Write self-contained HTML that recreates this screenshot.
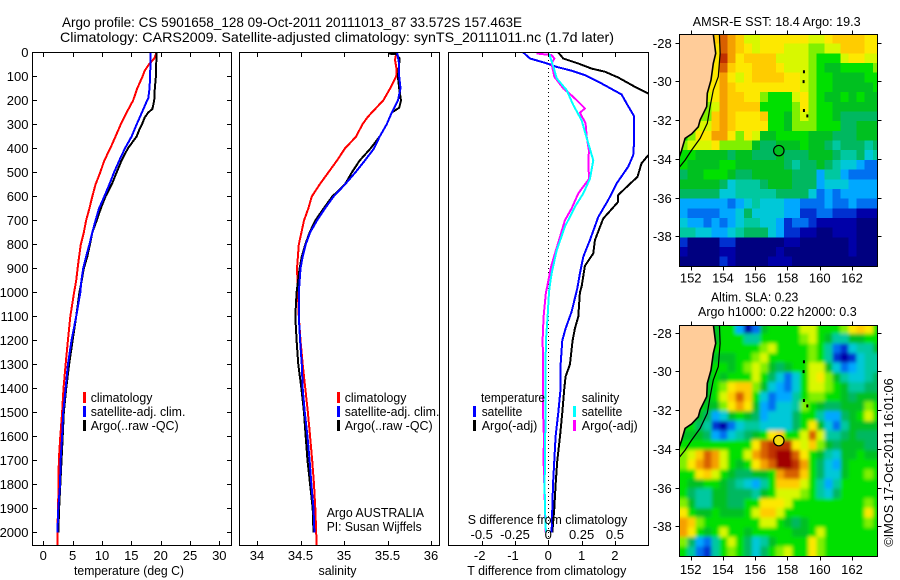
<!DOCTYPE html>
<html lang="en">
<head>
<meta charset="utf-8">
<title>Argo profile</title>
<style>
html,body{margin:0;padding:0;background:#fff;width:900px;height:580px;overflow:hidden}
svg{display:block}
text{font-family:"Liberation Sans",sans-serif;font-size:13px;fill:#000}
.frame{fill:none;stroke:#000;stroke-width:1;shape-rendering:crispEdges}
.tick{stroke:#000;stroke-width:1;shape-rendering:crispEdges}
.prof{fill:none;stroke-width:2;stroke-linejoin:round;shape-rendering:crispEdges}
.key{shape-rendering:crispEdges}
</style>
</head>
<body>
<svg id="fig" width="900" height="580" viewBox="0 0 900 580">
<defs>
<clipPath id="c1"><rect x="32" y="52" width="200" height="494"/></clipPath>
<clipPath id="c2"><rect x="239" y="52" width="201" height="494"/></clipPath>
<clipPath id="c3"><rect x="448" y="52" width="201" height="494"/></clipPath>
<clipPath id="m1"><rect x="679" y="34" width="199" height="233"/></clipPath>
<clipPath id="m2"><rect x="679" y="325" width="199" height="232"/></clipPath>
<filter id="soft" x="-10%" y="-10%" width="120%" height="120%"><feGaussianBlur stdDeviation="1.8"/></filter>
</defs>

<text x="62" y="27" font-size="14" textLength="460" lengthAdjust="spacingAndGlyphs" style="font-size:14px">Argo profile: CS 5901658_128 09-Oct-2011 20111013_87 33.572S 157.463E</text>
<text x="60" y="42" textLength="554" lengthAdjust="spacingAndGlyphs" style="font-size:14px">Climatology: CARS2009. Satellite-adjusted climatology: synTS_20111011.nc (1.7d later)</text>

<g id="p1" clip-path="url(#c1)"></g>
<g id="p2" clip-path="url(#c2)"></g>
<g id="p3" clip-path="url(#c3)"></g>
<g id="axes"></g>

<rect class="frame" x="32.5" y="52.5" width="199" height="493"/>
<rect class="frame" x="239.5" y="52.5" width="200" height="493"/>
<rect class="frame" x="448.5" y="52.5" width="200" height="493"/>

<text x="74" y="575" textLength="110" lengthAdjust="spacingAndGlyphs">temperature (deg C)</text>
<text x="318.5" y="575" textLength="38" lengthAdjust="spacingAndGlyphs">salinity</text>
<text x="467.3" y="575" textLength="159" lengthAdjust="spacingAndGlyphs">T difference from climatology</text>
<text x="467.7" y="524" textLength="159.6" lengthAdjust="spacingAndGlyphs">S difference from climatology</text>

<g>
<rect class="key" x="83" y="392" width="3" height="11" fill="#f00"/>
<rect class="key" x="83" y="406" width="3" height="11" fill="#00f"/>
<rect class="key" x="83" y="420" width="3" height="11" fill="#000"/>
<text x="90.7" y="402" textLength="61.7" lengthAdjust="spacingAndGlyphs">climatology</text>
<text x="90.7" y="416" textLength="94.7" lengthAdjust="spacingAndGlyphs">satellite-adj. clim.</text>
<text x="90.7" y="430" textLength="88" lengthAdjust="spacingAndGlyphs">Argo(..raw -QC)</text>
</g>
<g>
<rect class="key" x="337" y="392" width="3" height="11" fill="#f00"/>
<rect class="key" x="337" y="406" width="3" height="11" fill="#00f"/>
<rect class="key" x="337" y="420" width="3" height="11" fill="#000"/>
<text x="344.7" y="402" textLength="61.7" lengthAdjust="spacingAndGlyphs">climatology</text>
<text x="344.7" y="416" textLength="94.7" lengthAdjust="spacingAndGlyphs">satellite-adj. clim.</text>
<text x="344.7" y="430" textLength="88" lengthAdjust="spacingAndGlyphs">Argo(..raw -QC)</text>
</g>
<text x="326.7" y="517" textLength="97.3" lengthAdjust="spacingAndGlyphs">Argo AUSTRALIA</text>
<text x="326.7" y="531" textLength="95" lengthAdjust="spacingAndGlyphs">PI: Susan Wijffels</text>

<g>
<text x="481" y="402" textLength="64" lengthAdjust="spacingAndGlyphs">temperature</text>
<text x="481.7" y="416" textLength="40.6" lengthAdjust="spacingAndGlyphs">satellite</text>
<text x="481.7" y="430" textLength="55.6" lengthAdjust="spacingAndGlyphs">Argo(-adj)</text>
<text x="581.7" y="402" textLength="37.6" lengthAdjust="spacingAndGlyphs">salinity</text>
<text x="581.7" y="416" textLength="40.6" lengthAdjust="spacingAndGlyphs">satellite</text>
<text x="581.7" y="430" textLength="56" lengthAdjust="spacingAndGlyphs">Argo(-adj)</text>
<rect class="key" x="473" y="406" width="3" height="11" fill="#00f"/>
<rect class="key" x="473" y="420" width="3" height="11" fill="#000"/>
<rect class="key" x="573" y="406" width="3" height="11" fill="#0ff"/>
<rect class="key" x="573" y="420" width="3" height="11" fill="#f0f"/>
</g>

<text x="692.7" y="26" textLength="168" lengthAdjust="spacingAndGlyphs">AMSR-E SST: 18.4  Argo: 19.3</text>
<text x="711" y="301.5" textLength="87.3" lengthAdjust="spacingAndGlyphs">Altim. SLA: 0.23</text>
<text x="698" y="316" textLength="158.7" lengthAdjust="spacingAndGlyphs">Argo h1000: 0.22 h2000: 0.3</text>

<g id="map1" clip-path="url(#m1)"></g>
<g id="map2" clip-path="url(#m2)"></g>
<g id="mapaxes"></g>
<rect class="frame" x="679.5" y="34.5" width="198" height="232"/>
<rect class="frame" x="679.5" y="325.5" width="198" height="231"/>

<text transform="translate(893,546.7) rotate(-90)" textLength="168.4" lengthAdjust="spacingAndGlyphs">©IMOS 17-Oct-2011 16:01:06</text>
</svg>

<script>
// ---------- profile axis labels ----------
const depthTicks = [0,100,200,300,400,500,600,700,800,900,1000,1100,1200,1300,1400,1500,1600,1700,1800,1900,2000];
const tempTicks = [0,5,10,15,20,25,30];
const salTicks = [34,34.5,35,35.5,36];
const tDiffTicks = [-2,-1,0,1,2];
const sDiffTicks = [-0.5,-0.25,0,0.25,0.5];
const sDiffLabels = ['-0.5','-0.25','0','0.25','0.5'];

// ---------- temperature profiles ----------
const tClimDepth = [0,25,50,75,100,150,200,250,300,350,400,450,500,550,600,650,700,750,800,850,900,950,1000,1100,1200,1300,1400,1500,1600,1700,1800,1900,2000,2057];
const tClimValue = [19.3,18.9,18,17.3,16.9,16,15.3,14.2,13.2,12.3,11.4,10.4,9.7,8.9,8.35,7.85,7.3,6.9,6.4,6.1,5.85,5.6,5.25,4.6,4.2,3.8,3.45,3.2,2.9,2.65,2.6,2.5,2.4,2.4];
const tSatDepth = [0,100,150,190,200,250,300,350,400,450,500,550,600,650,700,750,800,850,900,950,1000,1100,1200,1300,1400,1500,1600,1700,1800,1900,2000];
const tSatValue = [18.3,18.2,18.1,17.9,17.7,16.8,15.9,15.05,13.9,12.95,12.05,11.25,10.4,9.5,8.9,8.35,7.85,7.3,6.8,6.5,6.3,5.6,4.8,4.2,3.8,3.4,3.2,2.95,2.85,2.55,2.4];
const tArgoDepth = [0,100,150,200,235,250,270,300,320,350,400,450,500,550,600,650,700,750,800,850,900,950,1000,1100,1200,1300,1400,1500,1600,1700,1800,1900,2000];
const tArgoValue = [19.3,19.2,19,18.9,18.6,17.9,17.3,16.8,16.4,15.9,14.4,13.35,12.5,11.65,10.6,9.8,9.1,8.35,7.95,7.5,6.9,6.55,6.15,5.6,5,4.4,3.9,3.5,3.3,3.1,2.9,2.7,2.55];

// ---------- salinity profiles ----------
const sClimDepth = [0,30,70,100,150,200,250,270,300,350,400,450,500,550,600,650,700,750,800,850,900,1000,1100,1200,1300,1400,1500,1600,1700,1800,1900,2000,2057];
const sClimValue = [35.605,35.586,35.605,35.6,35.53,35.45,35.32,35.27,35.21,35.14,35.01,34.92,34.82,34.72,34.63,34.59,34.54,34.51,34.48,34.47,34.46,34.47,34.48,34.5,34.525,34.555,34.585,34.61,34.635,34.655,34.67,34.68,34.685];
const sSatDepth = [0,50,100,150,200,250,300,350,400,450,500,550,600,650,700,750,800,850,900,1000,1100,1200,1300,1400,1500,1600,1700,1800,1900,2000];
const sSatValue = [35.61,35.635,35.635,35.65,35.62,35.55,35.49,35.41,35.345,35.24,35.13,35.01,34.88,34.78,34.69,34.61,34.56,34.525,34.5,34.48,34.48,34.495,34.515,34.525,34.55,34.58,34.605,34.625,34.65,34.66];
const sArgoDepth = [5,6,25,100,150,200,230,250,300,350,400,450,500,550,600,650,700,750,800,850,900,1000,1100,1200,1300,1400,1500,1600,1700,1800,1900,2000];
const sArgoValue = [35.51,35.6,35.64,35.62,35.635,35.655,35.635,35.55,35.49,35.41,35.305,35.18,35.09,35.01,34.865,34.765,34.67,34.605,34.555,34.515,34.49,34.455,34.44,34.455,34.475,34.51,34.54,34.56,34.58,34.61,34.64,34.65];

// ---------- difference profiles ----------
const dtSatDepth = [0,25,43,60,76,94,129,175,212,264,365,428,476,546,615,685,782,851,921,983,1000,1080,1150,1200,1300,1400,1500,1600,1700,1800,1900,2000];
const dtSatValue = [-0.75,-0.55,-0.1,0.25,0.7,1.1,1.6,2.2,2.35,2.57,2.58,2.55,2.4,2.05,1.8,1.5,1.25,1.05,0.95,0.87,0.84,0.7,0.52,0.42,0.37,0.37,0.3,0.22,0.18,0.14,0.12,0.1];
const dtArgoDepth = [0,25,46,67,80,104,143,171,250,350,428,462,518,567,594,622,692,782,837,889,976,1000,1100,1150,1200,1300,1350,1400,1500,1600,1700,1800,1900,2000];
const dtArgoValue = [0.3,0.45,0.9,1.3,1.7,2.1,2.6,3,3.8,3.9,3,2.8,2.68,2.3,2.1,2.1,1.65,1.4,1.35,1.1,1,0.95,0.9,0.8,0.73,0.65,0.52,0.48,0.42,0.35,0.27,0.22,0.18,0.12];
const dsSatDepth = [4,60,108,157,219,282,379,449,525,587,643,726,824,921,983,1000,1100,1200,1300,1400,1500,1600,1700,1800,1900,2000];
const dsSatValue = [0.005,0.038,0.063,0.138,0.188,0.25,0.3,0.338,0.313,0.263,0.2,0.125,0.063,0.025,0.008,0.005,-0.005,-0.018,-0.02,-0.02,-0.02,-0.023,-0.025,-0.028,-0.025,-0.018];
const dsArgoDepth = [4,11,25,46,101,150,185,233,251,296,351,407,476,525,587,650,699,768,837,893,976,1000,1100,1200,1300,1400,1500,1600,1700,1800,1900,2000];
const dsArgoValue = [-0.088,0.025,0.045,0.025,0.045,0.113,0.188,0.275,0.238,0.28,0.288,0.305,0.3,0.308,0.225,0.175,0.125,0.088,0.05,0.02,-0.008,-0.018,-0.035,-0.043,-0.038,-0.04,-0.04,-0.033,-0.035,-0.03,-0.025,-0.02];

// ---------- map axes + geography ----------
const lonTicks = [152,154,156,158,160,162];
const latTicks = [-28,-30,-32,-34,-36,-38];
const coastLon = [153.4,153.55,153.4,153.26,153.03,152.99,152.58,152.47,152.06,151.65,151.44,151.3];
const coastLat = [-27.55,-28.55,-29.07,-29.93,-30.61,-31.3,-31.99,-32.34,-32.71,-32.94,-33.54,-33.88];
const shelfLon = [153.78,153.82,153.71,153.4,153.2,153.03,152.58,152.06,151.65,151.3];
const shelfLat = [-27.55,-28.55,-29.75,-30.44,-31.3,-32.16,-32.94,-33.54,-34.06,-34.43];
const islandLon = [159.02,159.0,159.02,159.23];
const islandLat = [-29.5,-30.01,-31.5,-31.78];
const floatLon = 157.463;
const floatLat = -33.572;

// ---------- SST heatmap: colour levels by row (north to south), 0.5 degree cells ----------
const sstLevels = [
[9,9,9,9,13,15,14,13,11,11,12,12,12,12,12,12,11,11,12,13,13,13,13,12,12],
[9,9,9,9,12,15,14,13,12,11,12,12,12,11,11,11,10,10,11,11,13,13,13,12,12],
[9,9,9,9,12,16,14,12,13,13,13,13,11,11,11,11,10,9,9,9,11,12,12,11,11],
[9,9,9,10,12,15,13,12,12,13,13,13,12,11,11,11,10,9,8,8,9,9,9,9,10],
[9,9,9,11,12,14,12,11,12,13,13,13,13,12,12,11,10,9,9,8,8,8,8,9,9],
[9,9,9,12,12,14,13,12,12,12,12,12,12,12,12,11,10,9,9,8,8,8,8,8,9],
[9,9,9,11,12,14,13,13,12,12,10,9,9,9,11,12,10,9,8,8,9,8,9,8,8],
[9,9,9,10,11,14,13,13,13,13,9,9,9,9,10,12,10,9,9,8,8,8,8,8,8],
[9,9,10,10,13,14,13,12,12,12,13,9,9,8,10,11,10,9,9,8,7,7,7,7,7],
[9,9,11,11,13,14,13,12,12,12,12,9,9,8,10,10,10,9,9,9,7,7,8,8,8],
[9,10,12,12,14,14,12,10,12,11,8,8,9,9,9,9,8,8,8,7,7,7,8,8,8],
[10,11,11,11,12,10,10,10,10,8,7,7,8,8,8,9,8,8,7,6,7,7,7,6,7],
[9,9,8,8,8,8,7,8,8,7,7,7,8,7,7,7,8,8,8,7,6,6,7,5,6],
[9,8,8,8,8,9,9,8,8,8,8,8,8,7,6,7,7,8,7,6,5,5,4,3,3],
[7,8,8,9,9,9,8,7,7,8,8,8,8,8,7,7,7,4,6,6,4,3,3,3,3],
[8,8,8,8,8,7,5,6,6,6,7,8,8,8,7,7,7,4,5,5,5,4,4,4,4],
[7,7,7,7,7,5,5,6,6,6,6,6,7,7,7,7,5,3,4,3,4,4,4,4,4],
[4,4,4,4,4,4,3,4,5,6,5,5,5,4,4,3,3,3,4,3,3,4,3,3,3],
[4,3,3,3,3,4,4,5,7,5,5,5,5,4,4,2,2,3,3,2,2,2,1,1,1],
[5,4,4,3,4,3,4,5,6,6,5,5,4,2,3,3,2,1,1,1,1,1,0,0,0],
[6,6,5,5,4,4,5,6,7,7,7,5,4,2,2,1,1,0,0,1,1,1,0,0,0],
[2,0,0,0,0,2,2,0,0,0,0,0,0,1,1,0,0,0,0,0,0,1,0,0,0],
[1,0,0,0,0,1,1,0,0,0,0,0,1,0,0,0,0,0,0,0,0,1,0,0,0],
[0,0,0,0,0,2,1,0,0,0,0,1,1,1,0,0,0,0,0,0,0,0,0,0,0]
];

// ---------- SLA heatmap: colour levels by row (north to south), 0.5 degree cells ----------
const slaLevels = [
[9,9,9,9,8,9,9,4,1,3,8,9,9,9,9,11,11,9,9,9,10,12,13,12,9],
[9,9,9,9,8,9,9,9,6,6,9,9,9,9,9,10,11,9,8,6,6,8,8,9,9],
[9,9,9,9,9,9,9,9,9,9,10,11,9,9,9,9,10,9,6,3,2,5,6,6,8],
[9,9,9,9,8,8,8,9,9,10,11,9,9,9,9,9,10,9,6,2,1,2,5,6,6],
[9,9,9,8,9,9,8,9,10,11,10,8,7,8,9,9,11,11,8,5,3,4,5,6,6],
[9,9,9,8,9,8,9,9,9,11,9,7,5,3,5,9,11,12,10,8,6,5,5,6,7],
[9,9,9,8,9,10,12,13,13,10,8,5,4,3,5,9,11,11,10,9,8,6,6,7,7],
[9,9,9,8,9,11,13,15,13,9,5,3,4,4,6,9,10,10,9,9,8,7,8,8,8],
[9,9,9,8,8,10,12,14,12,8,4,3,5,5,6,10,9,8,7,7,8,8,8,10,9],
[9,9,8,7,4,5,8,9,8,7,4,5,5,5,7,9,9,6,4,4,7,8,9,11,9],
[9,9,7,6,2,1,3,5,6,6,5,5,5,5,7,9,12,8,5,3,6,8,8,8,8],
[8,8,8,7,4,3,5,6,7,8,9,12,13,9,9,11,15,11,6,6,7,8,7,7,7],
[9,9,9,9,9,9,9,9,9,12,15,16,16,16,12,11,13,10,8,7,8,8,8,7,7],
[10,11,13,15,14,11,9,9,11,14,15,16,17,17,15,12,9,8,6,5,8,8,9,8,8],
[10,12,14,15,14,11,9,8,9,12,14,15,17,17,16,14,9,7,5,4,8,9,9,9,9],
[9,9,12,13,11,9,8,7,7,8,8,9,14,15,15,13,9,7,5,5,8,9,9,10,9],
[9,8,8,9,9,8,7,6,5,4,6,9,13,13,13,11,9,6,4,6,9,9,9,9,9],
[9,7,6,6,8,8,7,7,7,6,8,9,11,11,11,10,9,6,5,7,9,9,9,9,9],
[10,8,6,6,8,8,7,7,9,9,12,12,12,11,9,9,9,9,9,9,9,9,9,10,9],
[12,9,8,8,9,8,8,8,9,11,13,13,11,9,9,9,9,9,9,9,9,9,9,12,9],
[14,13,10,9,9,9,9,9,9,9,11,11,9,8,7,8,9,9,9,9,9,9,9,10,9],
[14,12,9,8,9,11,9,9,8,9,9,9,9,9,8,8,9,11,9,9,9,9,9,9,9],
[10,7,4,3,6,9,11,9,7,5,6,8,9,9,9,9,12,10,9,9,9,9,9,9,9],
[9,6,3,2,6,9,10,9,7,5,7,9,10,11,9,9,12,10,9,9,9,9,9,9,9]
];

const levelColours = ['#000080','#0000a8','#0030d0','#0070f0','#00a8ff','#00c8d8','#00c8a0','#00b860','#00c020','#00e000','#80f000','#d8f800','#fde800','#ffcc00','#f5a000','#d86000','#c03000','#a00000'];

const NS = 'http://www.w3.org/2000/svg';
function mk(tag, attrs, parent){
  const el = document.createElementNS(NS, tag);
  for (const k in attrs) el.setAttribute(k, attrs[k]);
  parent.appendChild(el);
  return el;
}

// axis functions
const yDepth = d => 52.5 + d * 0.24;
const xTemp = v => 43.3 + v * 5.867;
const xSal = v => 257 + (v - 34) * 87;
const xTDiff = v => 548.3 + v * 33.3;
const xSDiff = v => 548.3 + v * 133.2;
const xLon = lon => 690.7 + (lon - 152) * 16.13;
const yLat1 = lat => 42.7 + (-28 - lat) * 19.37;
const yLat2 = lat => 332.7 + (-28 - lat) * 19.37;

function drawProfile(parent, depths, values, xFn, colour, name){
  const pts = depths.map((d, i) => xFn(values[i]).toFixed(1) + ',' + yDepth(d).toFixed(1)).join(' ');
  const line = mk('polyline', {points: pts, class: 'prof', stroke: colour}, parent);
  
  
}

const p1 = document.getElementById('p1');
const p2 = document.getElementById('p2');
const p3 = document.getElementById('p3');
drawProfile(p1, tClimDepth, tClimValue, xTemp, '#f00', 'temperature-climatology-line');
drawProfile(p1, tArgoDepth, tArgoValue, xTemp, '#000', 'temperature-argo-line');
drawProfile(p1, tSatDepth, tSatValue, xTemp, '#00f', 'temperature-satellite-line');
drawProfile(p2, sClimDepth, sClimValue, xSal, '#f00', 'salinity-climatology-line');
drawProfile(p2, sArgoDepth, sArgoValue, xSal, '#000', 'salinity-argo-line');
drawProfile(p2, sSatDepth, sSatValue, xSal, '#00f', 'salinity-satellite-line');

const zeroLine = mk('line', {x1: 548.5, x2: 548.5, y1: 52, y2: 546, stroke: '#000', 'stroke-width': 1, 'stroke-dasharray': '1 3', 'shape-rendering': 'crispEdges'}, p3);


drawProfile(p3, dtArgoDepth, dtArgoValue, xTDiff, '#000', 't-difference-argo-line');
drawProfile(p3, dtSatDepth, dtSatValue, xTDiff, '#00f', 't-difference-satellite-line');
drawProfile(p3, dsArgoDepth, dsArgoValue, xSDiff, '#f0f', 's-difference-argo-line');
drawProfile(p3, dsSatDepth, dsSatValue, xSDiff, '#0ff', 's-difference-satellite-line');

function tick(parent, x1, y1, x2, y2){
  const t = mk('line', {x1: x1, y1: y1, x2: x2, y2: y2, class: 'tick'}, parent);
  
  
}
function tickLabel(parent, x, y, str, anchor){
  const t = mk('text', {x: x, y: y, 'text-anchor': anchor}, parent);
  t.textContent = str;
  
  
}

const axes = document.getElementById('axes');
depthTicks.forEach(d => {
  const y = Math.round(yDepth(d) - 0.5) + 0.5;
  tick(axes, 32.5, y, 37, y);
  tick(axes, 227, y, 231.5, y);
  tickLabel(axes, 28.5, y + 4.5, String(d), 'end');
});
tempTicks.forEach(v => {
  const x = Math.round(xTemp(v)) + 0.5;
  tick(axes, x, 52.5, x, 57);
  tick(axes, x, 541, x, 545.5);
  tickLabel(axes, xTemp(v), 560, String(v), 'middle');
});
salTicks.forEach(v => {
  const x = Math.round(xSal(v)) + 0.5;
  tick(axes, x, 52.5, x, 57);
  tick(axes, x, 541, x, 545.5);
  tickLabel(axes, xSal(v), 560, String(v), 'middle');
});
tDiffTicks.forEach(v => {
  const x = Math.round(xTDiff(v)) + 0.5;
  tick(axes, x, 52.5, x, 57);
  tick(axes, x, 541, x, 545.5);
  tickLabel(axes, xTDiff(v) - (v < 0 ? 2 : 0), 560, String(v), 'middle');
});
sDiffTicks.forEach((v, i) => {
  tickLabel(axes, xSDiff(v), 539, sDiffLabels[i], 'middle');
});

function drawMap(group, levels, yLat, circleFill, blur, mapName){
  const holder = mk('g', blur ? {filter: 'url(#soft)'} : {}, group);
  
  
  const lon0 = 151.29, lat0 = -27.55, step = 0.5;
  const lastRow = levels.length - 1;
  levels.forEach((row, j) => {
    const lastCol = row.length - 1;
    row.forEach((level, i) => {
      // edge cells bleed past the frame so the soft filter does not fade at the border
      const x0 = xLon(lon0 + i * step) - (i === 0 ? 12 : 0);
      const x1 = xLon(lon0 + (i + 1) * step) + (i === lastCol ? 12 : 0);
      const y0 = yLat(lat0 - j * step) - (j === 0 ? 12 : 0);
      const y1 = yLat(lat0 - (j + 1) * step) + (j === lastRow ? 12 : 0);
      const cell = mk('rect', {x: x0.toFixed(1), y: y0.toFixed(1), width: (x1 - x0 + 0.4).toFixed(1), height: (y1 - y0 + 0.4).toFixed(1), fill: levelColours[level], 'shape-rendering': 'crispEdges'}, holder);
      
      
    });
  });
  const coastPts = coastLon.map((lon, i) => xLon(lon).toFixed(1) + ',' + yLat(coastLat[i]).toFixed(1));
  const landPts = [xLon(151).toFixed(1) + ',' + yLat(-27).toFixed(1), xLon(coastLon[0]).toFixed(1) + ',' + yLat(-27).toFixed(1)].concat(coastPts, [xLon(151).toFixed(1) + ',' + yLat(coastLat[coastLat.length - 1]).toFixed(1)]);
  const land = mk('polygon', {points: landPts.join(' '), fill: '#ffcc99'}, group);
  
  
  const coast = mk('polyline', {points: coastPts.join(' '), fill: 'none', stroke: '#000', 'stroke-width': 1.6}, group);
  
  
  const shelf = mk('polyline', {points: shelfLon.map((lon, i) => xLon(lon).toFixed(1) + ',' + yLat(shelfLat[i]).toFixed(1)).join(' '), fill: 'none', stroke: '#000', 'stroke-width': 1.2}, group);
  
  
  islandLon.forEach((lon, i) => {
    const isl = mk('rect', {x: xLon(lon) - 1, y: yLat(islandLat[i]) - 1.5, width: 2, height: 3, fill: '#000'}, group);
    
    
  });
  const marker = mk('circle', {cx: xLon(floatLon), cy: yLat(floatLat), r: 5.2, fill: circleFill, stroke: '#000', 'stroke-width': 1.2}, group);
  
  
}
drawMap(document.getElementById('map1'), sstLevels, yLat1, '#00c020', false, 'sst');
drawMap(document.getElementById('map2'), slaLevels, yLat2, '#f2dc10', true, 'sla');

const mapAxes = document.getElementById('mapaxes');
function drawMapAxes(top, bottom, yLat, labelY){
  lonTicks.forEach(lon => {
    const x = Math.round(xLon(lon)) + 0.5;
    tick(mapAxes, x, top - 4, x, top);
    tick(mapAxes, x, bottom, x, bottom + 4);
    tickLabel(mapAxes, xLon(lon), labelY, String(lon), 'middle');
  });
  latTicks.forEach(lat => {
    const y = Math.round(yLat(lat)) + 0.5;
    tick(mapAxes, 675.5, y, 679.5, y);
    tick(mapAxes, 877.5, y, 881.5, y);
    tickLabel(mapAxes, 671.7, y + 4.5, String(lat), 'end');
  });
}
drawMapAxes(34.5, 266.5, yLat1, 282.5);
drawMapAxes(325.5, 556.5, yLat2, 574);
</script>
</body>
</html>
